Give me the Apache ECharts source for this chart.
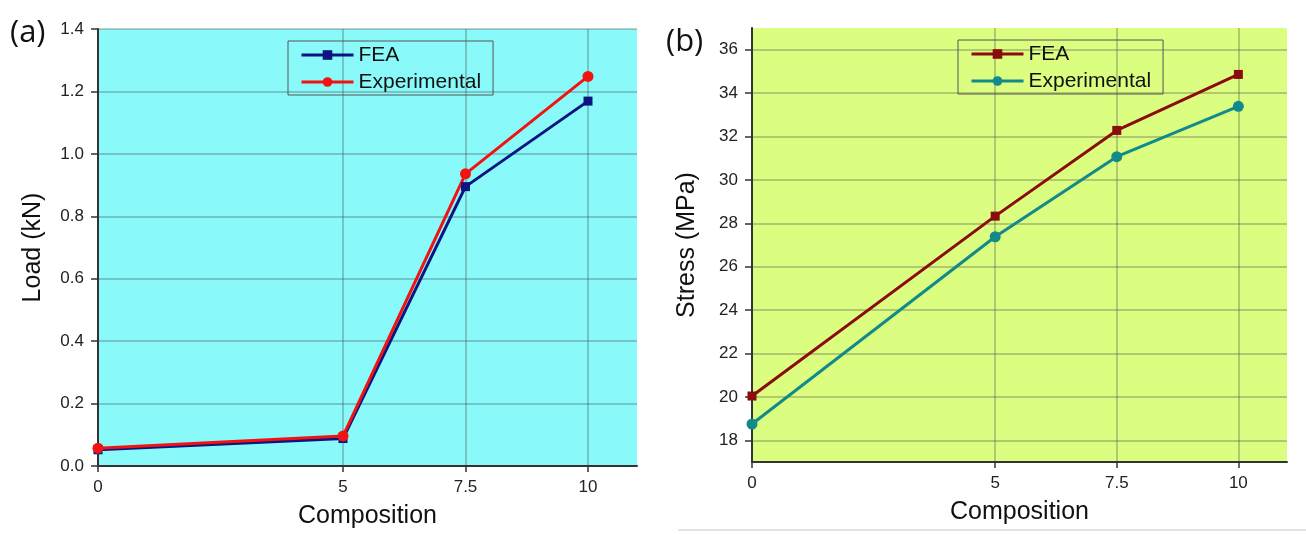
<!DOCTYPE html>
<html>
<head>
<meta charset="utf-8">
<script src="https://cdn.jsdelivr.net/npm/echarts@6/dist/echarts.min.js"></script>
<style>
  html, body { margin: 0; padding: 0; background: #ffffff; }
  #wrap { position: relative; width: 1306px; height: 534px; }
  #chartA { position: absolute; left: 0; top: 0; width: 653px; height: 534px; }
  #chartB { position: absolute; left: 653px; top: 0; width: 653px; height: 534px; }
</style>
</head>
<body>
<div id="wrap">
  <div id="chartA"></div>
  <div id="chartB"></div>
</div>
<script>
// ---- data ----
const compositions = [0, 5, 7.5, 10];
const xTickValues = [0, 5, 7.5, 10];

const loadFEA = [0.052, 0.088, 0.895, 1.169];
const loadExp = [0.057, 0.096, 0.936, 1.248];
const loadTicks = [0, 0.2, 0.4, 0.6, 0.8, 1.0, 1.2, 1.4];

const stressFEA = [20.04, 28.33, 32.28, 34.86];
const stressExp = [18.75, 27.38, 31.07, 33.39];
const stressTicks = [18, 20, 22, 24, 26, 28, 30, 32, 34, 36];

const seriesNames = ['FEA', 'Experimental'];

// ---- helpers ----
const FONT = 'Liberation Sans, Arial, sans-serif';
function pairs(xs, ys) { return xs.map((x, i) => [x, ys[i]]); }

function xAxisCfg() {
  return {
    type: 'value', min: 0, max: 11,
    name: 'Composition', nameLocation: 'middle', nameGap: 38,
    nameTextStyle: { fontFamily: FONT, fontSize: 25, color: '#111' },
    axisLine: { show: true, onZero: false, lineStyle: { color: '#333', width: 2 } },
    axisTick: { show: true, length: 6, customValues: xTickValues, lineStyle: { color: '#333', width: 1.5 } },
    axisLabel: { customValues: xTickValues, margin: 13, fontFamily: FONT, fontSize: 17, color: '#222',
                 formatter: v => String(v) },
    splitLine: { show: true, lineStyle: { color: 'rgba(60,70,70,0.38)', width: 1.5 } }
  };
}

function yAxisCfg(min, max, ticks, name, fmt) {
  return {
    type: 'value', min: min, max: max,
    name: name, nameLocation: 'middle', nameGap: 52,
    nameTextStyle: { fontFamily: FONT, fontSize: 25, color: '#111' },
    axisLine: { show: true, onZero: false, lineStyle: { color: '#333', width: 2 } },
    axisTick: { show: true, length: 7, customValues: ticks, lineStyle: { color: '#333', width: 1.5 } },
    axisLabel: { customValues: ticks, margin: 14, fontFamily: FONT, fontSize: 17, color: '#222', formatter: fmt },
    splitLine: { show: true, lineStyle: { color: 'rgba(60,70,70,0.38)', width: 1.5 } }
  };
}

function legendCfg(left, top) {
  return {
    orient: 'vertical', left: left, top: top,
    data: seriesNames,
    itemWidth: 52, itemHeight: 12, itemGap: 5,
    padding: [3, 12, 2, 12],
    borderColor: '#555', borderWidth: 1, borderRadius: 0,
    backgroundColor: 'transparent',
    lineStyle: { width: 3 },
    textStyle: { fontFamily: FONT, fontSize: 21, lineHeight: 22, color: '#111' }
  };
}

function lineSeries(name, data, color, symbol, size) {
  return {
    name: name, type: 'line', data: data,
    symbol: symbol, symbolSize: size, showSymbol: true,
    lineStyle: { color: color, width: 3 },
    itemStyle: { color: color },
    z: 5
  };
}

// ---- panel (a) ----
const chartA = echarts.init(document.getElementById('chartA'), null, { renderer: 'canvas' });
chartA.setOption({
  animation: false,
  backgroundColor: '#ffffff',
  graphic: [{
    type: 'text', left: 10, top: 18,
    style: { text: '(a)', fontFamily: 'Open Sans, DejaVu Sans, sans-serif', fontSize: 31, fill: '#111' }
  }],
  grid: { left: 98, right: 16, top: 29, bottom: 68, show: true, backgroundColor: '#8AF9F9', borderWidth: 0 },
  legend: legendCfg(288, 41),
  xAxis: xAxisCfg(),
  yAxis: yAxisCfg(0, 1.4, loadTicks, 'Load (kN)', v => v.toFixed(1)),
  series: [
    lineSeries('FEA', pairs(compositions, loadFEA), '#0B1580', 'rect', 9),
    lineSeries('Experimental', pairs(compositions, loadExp), '#F21212', 'circle', 11)
  ]
});

// ---- panel (b) ----
const chartB = echarts.init(document.getElementById('chartB'), null, { renderer: 'canvas' });
chartB.setOption({
  animation: false,
  backgroundColor: '#ffffff',
  graphic: [{
    type: 'text', left: 13, top: 27,
    style: { text: '(b)', fontFamily: 'Open Sans, DejaVu Sans, sans-serif', fontSize: 31, fill: '#111' }
  }, {
    type: 'rect', left: 25, top: 529,
    shape: { width: 628, height: 2 },
    style: { fill: '#e4e4e4' }
  }],
  grid: { left: 99, right: 19, top: 28, bottom: 72, show: true, backgroundColor: '#DBFD80', borderWidth: 0 },
  legend: legendCfg(305, 40),
  xAxis: xAxisCfg(),
  yAxis: yAxisCfg(17, 37, stressTicks, 'Stress (MPa)', v => String(v)),
  series: [
    lineSeries('FEA', pairs(compositions, stressFEA), '#8A0C0C', 'rect', 9),
    lineSeries('Experimental', pairs(compositions, stressExp), '#138A8A', 'circle', 11)
  ]
});
</script>
</body>
</html>
